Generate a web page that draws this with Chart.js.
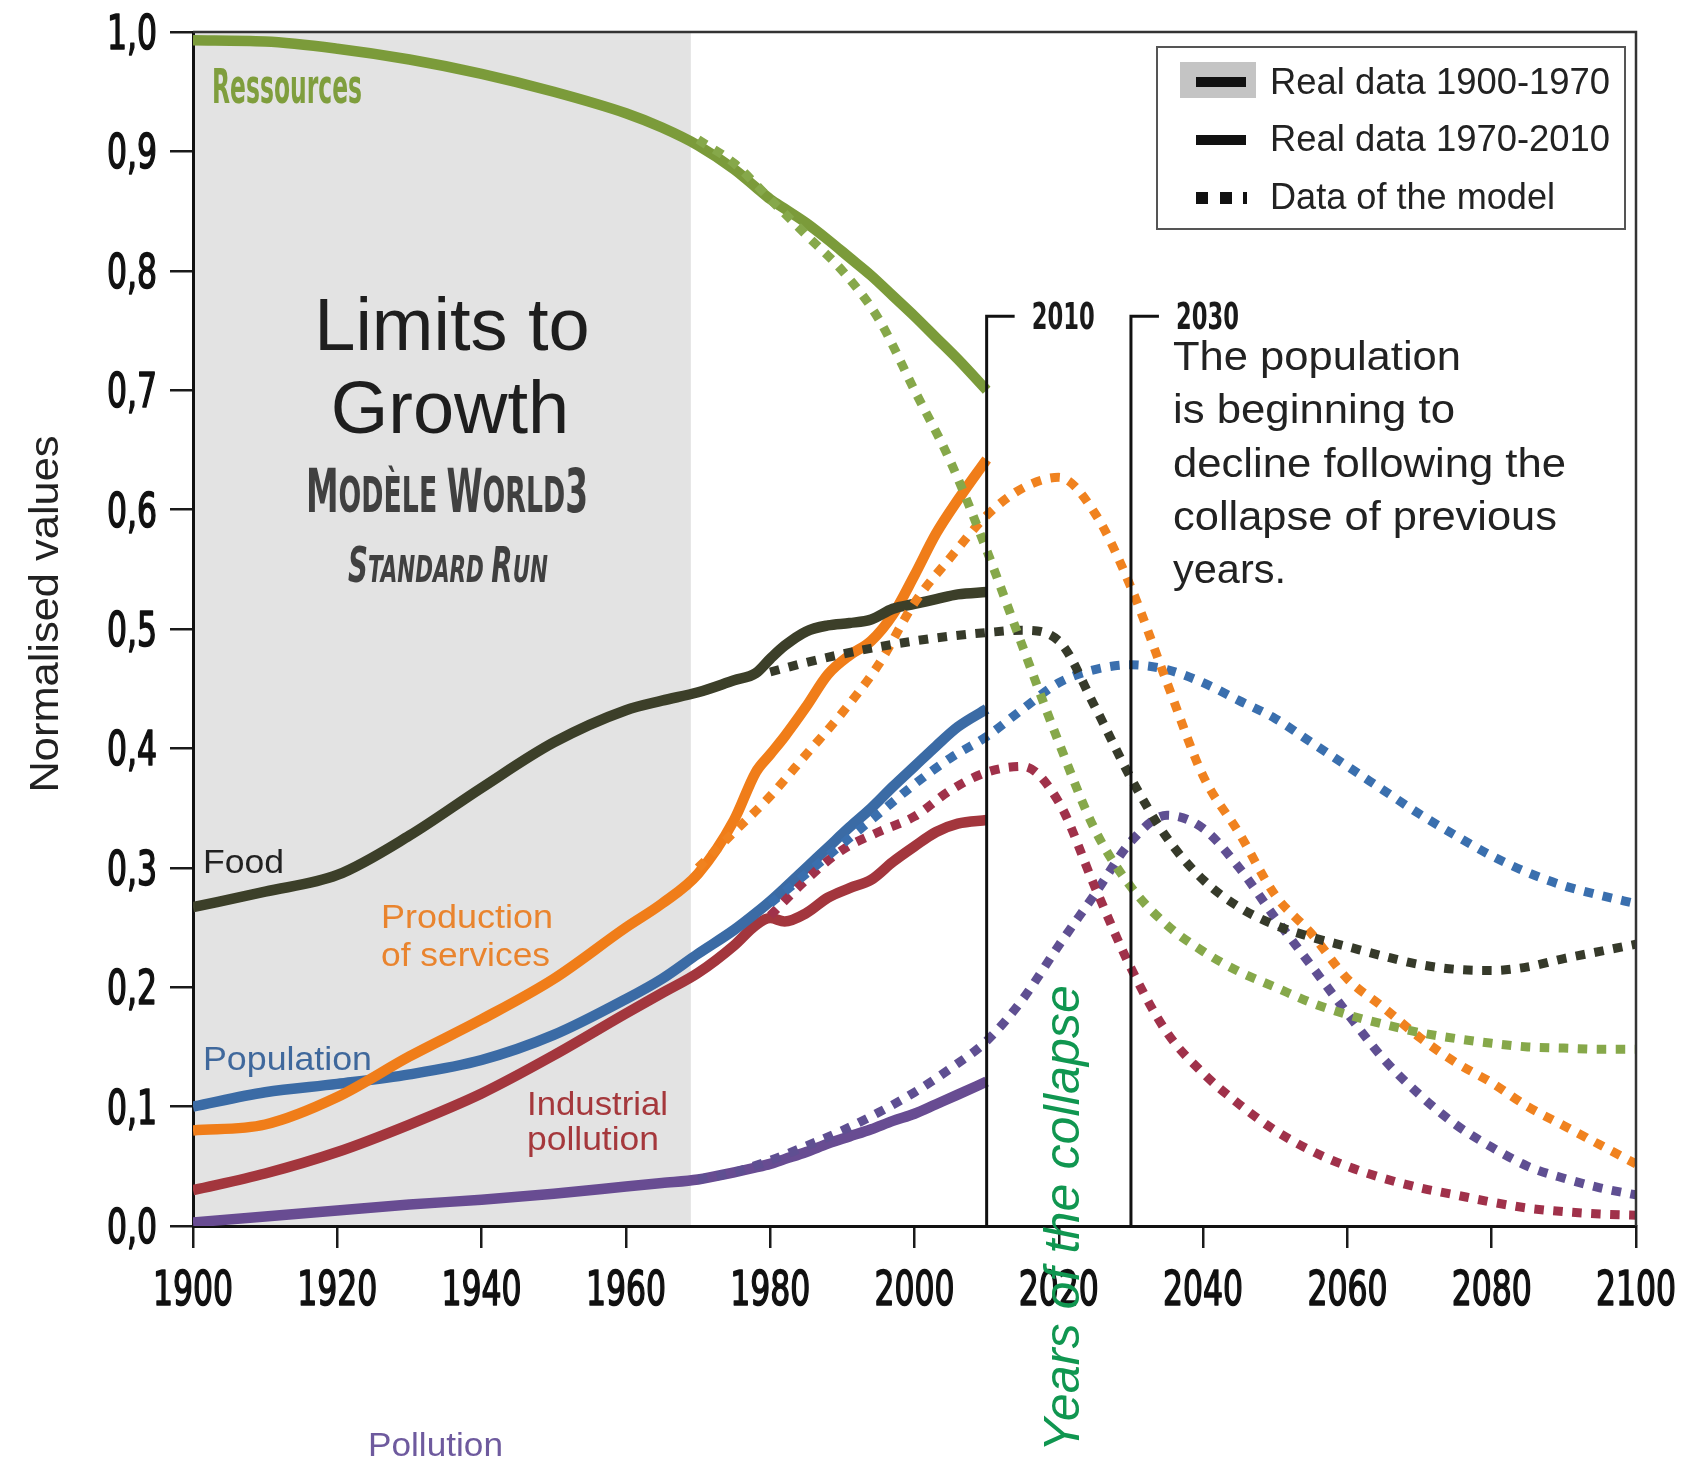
<!DOCTYPE html>
<html>
<head>
<meta charset="utf-8">
<title>Limits to Growth – World3 standard run</title>
<script src="https://cdn.jsdelivr.net/npm/chart.js@4.4.1/dist/chart.umd.min.js"></script>
<style>
  html, body { margin: 0; padding: 0; background: #fff; }
  #wrap { position: relative; width: 1685px; height: 1461px; }
</style>
</head>
<body>
<div id="wrap"><canvas id="chart"></canvas></div>
<script>
// ── Data (normalised values) ──
const realYears = [1900, 1910, 1920, 1930, 1940, 1950, 1960, 1965, 1970, 1975, 1978,
                   1980, 1982, 1985, 1988, 1991, 1994, 1997, 2000, 2003, 2006, 2010];
const modelYears = [1970, 1975, 1980, 1985, 1990, 1995, 2000, 2005, 2010, 2015, 2020, 2025, 2030, 2035,
                    2040, 2045, 2050, 2055, 2060, 2065, 2070, 2075, 2080, 2085, 2090, 2095, 2100];

const resourcesReal    = [0.993, 0.992, 0.986, 0.977, 0.965, 0.95, 0.932, 0.92, 0.905, 0.885, 0.87,
                          0.86, 0.852, 0.84, 0.826, 0.811, 0.796, 0.779, 0.762, 0.744, 0.726, 0.70];
const foodReal         = [0.267, 0.28, 0.294, 0.327, 0.367, 0.405, 0.432, 0.44, 0.447, 0.457, 0.463,
                          0.475, 0.486, 0.498, 0.503, 0.505, 0.508, 0.517, 0.521, 0.525, 0.529, 0.531];
const servicesReal     = [0.08, 0.085, 0.108, 0.142, 0.173, 0.207, 0.25, 0.27, 0.295, 0.34, 0.38,
                          0.395, 0.41, 0.435, 0.462, 0.478, 0.49, 0.512, 0.545, 0.58, 0.608, 0.642];
const populationReal   = [0.10, 0.112, 0.119, 0.127, 0.139, 0.16, 0.19, 0.207, 0.228, 0.248, 0.262,
                          0.272, 0.283, 0.30, 0.317, 0.334, 0.35, 0.368, 0.385, 0.402, 0.418, 0.433];
const indPollutionReal = [0.03, 0.044, 0.062, 0.085, 0.111, 0.143, 0.178, 0.195, 0.212, 0.235, 0.252,
                          0.258, 0.255, 0.262, 0.275, 0.283, 0.29, 0.305, 0.318, 0.33, 0.337, 0.34];
const pollutionReal    = [0.003, 0.008, 0.013, 0.018, 0.022, 0.027, 0.033, 0.036, 0.039, 0.045, 0.049,
                          0.052, 0.056, 0.062, 0.069, 0.075, 0.081, 0.088, 0.094, 0.102, 0.11, 0.121];

const resourcesModel    = [0.91, 0.89, 0.86, 0.83, 0.80, 0.76, 0.70, 0.64, 0.566, 0.485, 0.405, 0.332, 0.284, 0.252,
                           0.23, 0.213, 0.20, 0.187, 0.177, 0.169, 0.162, 0.157, 0.153, 0.15, 0.149, 0.148, 0.148];
const foodModel         = [null, null, 0.464, 0.472, 0.479, 0.485, 0.49, 0.494, 0.497, 0.499, 0.49, 0.435, 0.375, 0.325,
                           0.29, 0.267, 0.252, 0.242, 0.234, 0.226, 0.219, 0.215, 0.214, 0.217, 0.224, 0.23, 0.236];
const servicesModel     = [0.30, 0.33, 0.36, 0.395, 0.43, 0.47, 0.522, 0.56, 0.595, 0.618, 0.627, 0.597, 0.535, 0.455,
                           0.377, 0.329, 0.277, 0.245, 0.207, 0.183, 0.158, 0.137, 0.12, 0.10, 0.084, 0.068, 0.052];
const populationModel   = [null, null, 0.27, 0.295, 0.32, 0.345, 0.37, 0.392, 0.41, 0.433, 0.455, 0.466, 0.47, 0.466,
                           0.455, 0.44, 0.425, 0.405, 0.385, 0.365, 0.345, 0.327, 0.31, 0.296, 0.285, 0.277, 0.27];
const indPollutionModel = [null, null, 0.26, 0.29, 0.315, 0.33, 0.343, 0.365, 0.38, 0.385, 0.355, 0.284, 0.216, 0.162,
                           0.128, 0.102, 0.08, 0.063, 0.05, 0.04, 0.032, 0.026, 0.02, 0.015, 0.012, 0.01, 0.009];
const pollutionModel    = [0.039, 0.045, 0.055, 0.067, 0.08, 0.095, 0.112, 0.132, 0.155, 0.19, 0.235, 0.278, 0.322, 0.344,
                           0.333, 0.30, 0.258, 0.218, 0.178, 0.14, 0.11, 0.085, 0.066, 0.05, 0.04, 0.032, 0.026];

const xTicks = [1900, 1920, 1940, 1960, 1980, 2000, 2020, 2040, 2060, 2080, 2100];
const yTicks = [0, 0.1, 0.2, 0.3, 0.4, 0.5, 0.6, 0.7, 0.8, 0.9, 1.0];
const realDataEnd = 1969;          // grey band: real data 1900-1970
const collapseYears = [2010, 2030];

// ── Styling ──
const NARROW = "'Liberation Sans Narrow', 'DejaVu Sans Condensed', sans-serif";
const SANS = "'Liberation Sans', Arial, Helvetica, sans-serif";
const TICK_FONT = '48px ' + NARROW;
const C = {
  res: '#7b9b3a', resM: '#86a84a',
  food: '#3c3f29', foodM: '#363a2a',
  serv: '#f07d19', servM: '#f0821f',
  pop: '#3b6ba5', popM: '#3a6fae',
  ind: '#a3363d', indM: '#a0314a',
  pol: '#684c92', polM: '#5f4f92'
};

const pts = (xs, ys) => xs.map((x, i) => ({ x, y: ys[i] })).filter(p => p.y !== null);

function realSet(label, ys, color) {
  return { label, data: pts(realYears, ys), borderColor: color, borderWidth: 10.5,
           borderCapStyle: 'butt', borderJoinStyle: 'round', pointRadius: 0, fill: false };
}
function modelSet(label, ys, color) {
  return { label, data: pts(modelYears, ys), borderColor: color, borderWidth: 9,
           borderDash: [9.5, 9.5], borderCapStyle: 'butt', pointRadius: 0, fill: false };
}

// ── Text helpers ──
function fitText(ctx, text, x, y, width, font, color, align) {
  ctx.save();
  ctx.font = font;
  ctx.fillStyle = color;
  ctx.textBaseline = 'alphabetic';
  ctx.textAlign = 'left';
  const w = ctx.measureText(text).width;
  ctx.translate(align === 'center' ? x - width / 2 : x, y);
  ctx.scale(width / w, 1);
  ctx.fillText(text, 0, 0);
  ctx.restore();
}

// fixed horizontal squeeze plus a light outline, for the condensed tick digits
function squeezeText(ctx, text, x, y, sx, font, color, align) {
  ctx.save();
  ctx.font = font;
  ctx.fillStyle = color;
  ctx.strokeStyle = color;
  ctx.lineWidth = 1.6;
  ctx.lineJoin = 'round';
  ctx.textBaseline = 'alphabetic';
  ctx.textAlign = 'left';
  const w = ctx.measureText(text).width * sx;
  const x0 = align === 'center' ? x - w / 2 : align === 'right' ? x - w : x;
  ctx.translate(x0, y);
  ctx.scale(sx, 1);
  ctx.fillText(text, 0, 0);
  ctx.strokeText(text, 0, 0);
  ctx.restore();
}

function smallCaps(ctx, parts, cx, y, width, bigFont, smallFont, color) {
  ctx.save();
  ctx.textBaseline = 'alphabetic';
  ctx.textAlign = 'left';
  let total = 0;
  const widths = parts.map(p => {
    ctx.font = p[1] ? bigFont : smallFont;
    const w = ctx.measureText(p[0]).width;
    total += w;
    return w;
  });
  ctx.translate(cx - width / 2, y);
  ctx.scale(width / total, 1);
  ctx.fillStyle = color;
  let x = 0;
  parts.forEach((p, i) => {
    ctx.font = p[1] ? bigFont : smallFont;
    ctx.fillText(p[0], x, 0);
    x += widths[i];
  });
  ctx.restore();
}

// ── Decorations: grey band, frame, tick labels, brackets, notes, legend ──
const decor = {
  id: 'decor',
  beforeDraw(chart) {
    const { ctx, chartArea: a, scales: { x } } = chart;
    ctx.save();
    ctx.fillStyle = '#fff';
    ctx.fillRect(0, 0, chart.width, chart.height);
    ctx.fillStyle = '#e3e3e3';
    ctx.fillRect(a.left, a.top, x.getPixelForValue(realDataEnd) - a.left, a.bottom - a.top);
    ctx.restore();
  },
  afterDraw(chart) {
    const { ctx, chartArea: a, scales: { x, y } } = chart;
    ctx.save();

    // condensed tick labels, placed from the scales' own ticks
    ctx.font = TICK_FONT;
    const sx = 80 / ctx.measureText('1900').width;
    x.ticks.forEach(t => squeezeText(ctx, String(t.value), x.getPixelForValue(t.value),
                                     a.bottom + 79, sx, TICK_FONT, '#111', 'center'));
    y.ticks.forEach(t => squeezeText(ctx, t.value.toFixed(1).replace('.', ','), a.left - 36,
                                     y.getPixelForValue(t.value) + 17, sx, TICK_FONT, '#111', 'right'));

    // y axis title
    ctx.save();
    ctx.translate(58, 614);
    ctx.rotate(-Math.PI / 2);
    fitText(ctx, 'Normalised values', 0, 0, 357, '41px ' + SANS, '#222', 'center');
    ctx.restore();

    // frame top + right
    ctx.strokeStyle = '#333';
    ctx.lineWidth = 2.5;
    ctx.beginPath();
    ctx.moveTo(a.left, a.top);
    ctx.lineTo(a.right, a.top);
    ctx.lineTo(a.right, a.bottom);
    ctx.stroke();

    // 2010 / 2030 brackets
    const bTop = y.getPixelForValue(0.762);
    ctx.strokeStyle = '#111';
    ctx.lineWidth = 3;
    collapseYears.forEach(yr => {
      const px = x.getPixelForValue(yr);
      ctx.beginPath();
      ctx.moveTo(px, a.bottom);
      ctx.lineTo(px, bTop);
      ctx.lineTo(px + 28, bTop);
      ctx.stroke();
      fitText(ctx, String(yr), px + 45, bTop + 13, 63, 'bold 38px ' + NARROW, '#1a1a1a');
    });

    // title block
    ctx.fillStyle = '#1e1e1e';
    ctx.font = '74px ' + SANS;
    ctx.textAlign = 'center';
    ctx.textBaseline = 'alphabetic';
    ctx.fillText('Limits to', 452, 350);
    ctx.fillText('Growth', 450, 433);
    smallCaps(ctx, [['M', 1], ['ODÈLE', 0], [' ', 0], ['W', 1], ['ORLD', 0], ['3', 1]],
              447, 512, 282, 'bold 60px ' + NARROW, 'bold 49px ' + NARROW, '#404040');
    smallCaps(ctx, [['S', 1], ['TANDARD', 0], [' ', 0], ['R', 1], ['UN', 0]],
              448, 582, 200, 'italic bold 49px ' + NARROW, 'italic bold 38px ' + NARROW, '#404040');

    // series labels
    fitText(ctx, 'Ressources', 212, 103, 150, 'bold 48px ' + NARROW, '#7f9e3d');
    fitText(ctx, 'Food', 203, 873, 81, '33px ' + SANS, '#222');
    fitText(ctx, 'Production', 381, 928, 172, '33px ' + SANS, '#e9842e');
    fitText(ctx, 'of services', 381, 966, 169, '33px ' + SANS, '#e9842e');
    fitText(ctx, 'Population', 203, 1070, 169, '33px ' + SANS, '#3f689c');
    fitText(ctx, 'Industrial', 527, 1115, 141, '33px ' + SANS, '#a5383c');
    fitText(ctx, 'pollution', 527, 1150, 132, '33px ' + SANS, '#a5383c');
    fitText(ctx, 'Pollution', 368, 1456, 135, '33px ' + SANS, '#6e5a9e');

    // note
    const note = [['The population', 288], ['is beginning to', 282], ['decline following the', 393],
                  ['collapse of previous', 384], ['years.', 113]];
    note.forEach((l, i) => fitText(ctx, l[0], 1173, 370 + i * 53.3, l[1], '40px ' + SANS, '#222'));

    // years of the collapse
    ctx.save();
    ctx.translate(1079, 1452);
    ctx.rotate(-Math.PI / 2);
    fitText(ctx, 'Years of the collapse', 0, 0, 467, 'italic 50px ' + SANS, '#109650');
    ctx.restore();

    // legend
    ctx.strokeStyle = '#555';
    ctx.lineWidth = 2;
    ctx.strokeRect(1157, 47, 468, 182);
    ctx.fillStyle = '#c4c4c4';
    ctx.fillRect(1180, 62, 76, 36);
    ctx.fillStyle = '#111';
    ctx.fillRect(1196, 77, 50, 10);
    ctx.fillRect(1196, 135, 50, 10);
    ctx.fillRect(1196, 192, 12, 12);
    ctx.fillRect(1220, 192, 12, 12);
    ctx.fillRect(1243, 192, 4, 12);
    fitText(ctx, 'Real data 1900-1970', 1270, 94, 340, '36px ' + SANS, '#222');
    fitText(ctx, 'Real data 1970-2010', 1270, 151, 340, '36px ' + SANS, '#222');
    fitText(ctx, 'Data of the model', 1270, 209, 285, '36px ' + SANS, '#222');

    ctx.restore();
  }
};

new Chart(document.getElementById('chart'), {
  type: 'line',
  data: {
    datasets: [
      modelSet('Ressources (model)', resourcesModel, C.resM),
      modelSet('Food (model)', foodModel, C.foodM),
      modelSet('Production of services (model)', servicesModel, C.servM),
      modelSet('Population (model)', populationModel, C.popM),
      modelSet('Industrial pollution (model)', indPollutionModel, C.indM),
      modelSet('Pollution (model)', pollutionModel, C.polM),
      realSet('Ressources', resourcesReal, C.res),
      realSet('Food', foodReal, C.food),
      realSet('Production of services', servicesReal, C.serv),
      realSet('Population', populationReal, C.pop),
      realSet('Industrial pollution', indPollutionReal, C.ind),
      realSet('Pollution', pollutionReal, C.pol)
    ]
  },
  options: {
    responsive: true,
    maintainAspectRatio: false,
    animation: false,
    layout: { padding: { top: 32, right: 49, left: 0, bottom: 0 } },
    elements: { line: { cubicInterpolationMode: 'monotone' }, point: { radius: 0 } },
    plugins: { legend: { display: false }, tooltip: { enabled: false } },
    scales: {
      x: {
        type: 'linear', min: 1900, max: 2100,
        afterBuildTicks: s => { s.ticks = xTicks.map(v => ({ value: v })); },
        afterFit: s => { s.height = 235; },
        grid: { drawOnChartArea: false, drawTicks: true, tickLength: 22, color: '#1a1a1a', lineWidth: 2.5 },
        border: { display: true, color: '#111', width: 3 },
        ticks: { display: false, autoSkip: false }
      },
      y: {
        type: 'linear', min: 0, max: 1,
        afterBuildTicks: s => { s.ticks = yTicks.map(v => ({ value: v })); },
        afterFit: s => { s.width = 193; },
        grid: { drawOnChartArea: false, drawTicks: true, tickLength: 23, color: '#1a1a1a', lineWidth: 2.5 },
        border: { display: true, color: '#111', width: 3 },
        ticks: { display: false, autoSkip: false }
      }
    }
  },
  plugins: [decor]
});
</script>
</body>
</html>
